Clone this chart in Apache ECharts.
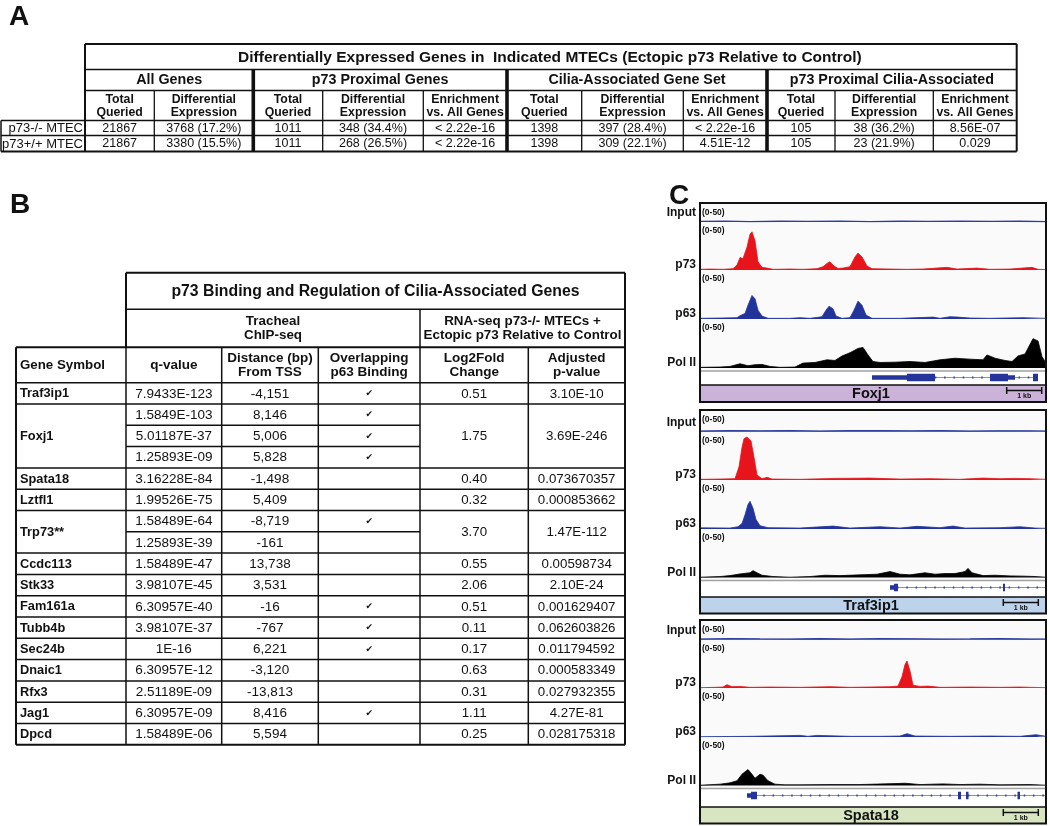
<!DOCTYPE html>
<html><head><meta charset="utf-8">
<script src="https://cdn.jsdelivr.net/npm/echarts/dist/echarts.min.js"></script>
<style>html,body{margin:0;padding:0;background:#fff}#c{width:1050px;height:826px}</style>
</head><body><div id="c"></div>
<script>
// ---------------- DATA ----------------
// Panel A
const tableATitle = 'Differentially Expressed Genes in  Indicated MTECs (Ectopic p73 Relative to Control)';
const tableAGroups = ['All Genes', 'p73 Proximal Genes', 'Cilia-Associated Gene Set', 'p73 Proximal Cilia-Associated'];
const tableAColHeaders = ['Total\nQueried', 'Differential\nExpression',
  'Total\nQueried', 'Differential\nExpression', 'Enrichment\nvs. All Genes',
  'Total\nQueried', 'Differential\nExpression', 'Enrichment\nvs. All Genes',
  'Total\nQueried', 'Differential\nExpression', 'Enrichment\nvs. All Genes'];
const tableARowLabels = ['p73-/- MTEC', 'p73+/+ MTEC'];
const tableAKnockout = ['21867', '3768 (17.2%)', '1011', '348 (34.4%)', '< 2.22e-16', '1398', '397 (28.4%)', '< 2.22e-16', '105', '38 (36.2%)', '8.56E-07'];
const tableAWildtype = ['21867', '3380 (15.5%)', '1011', '268 (26.5%)', '< 2.22e-16', '1398', '309 (22.1%)', '4.51E-12', '105', '23 (21.9%)', '0.029'];

// Panel B
const tableBTitle = 'p73 Binding and Regulation of Cilia-Associated Genes';
const tableBSubHeaders = ['Tracheal\nChIP-seq', 'RNA-seq p73-/- MTECs +\nEctopic p73 Relative to Control'];
const tableBColHeaders = ['Gene Symbol', 'q-value', 'Distance (bp)\nFrom TSS', 'Overlapping\np63 Binding', 'Log2Fold\nChange', 'Adjusted\np-value'];
const geneSymbols = ['Traf3ip1', 'Foxj1', 'Spata18', 'Lztfl1', 'Trp73**', 'Ccdc113', 'Stk33', 'Fam161a', 'Tubb4b', 'Sec24b', 'Dnaic1', 'Rfx3', 'Jag1', 'Dpcd'];
const genePeakCounts = [1, 3, 1, 1, 2, 1, 1, 1, 1, 1, 1, 1, 1, 1];
const qValues = ['7.9433E-123', '1.5849E-103', '5.01187E-37', '1.25893E-09', '3.16228E-84', '1.99526E-75', '1.58489E-64', '1.25893E-39', '1.58489E-47', '3.98107E-45', '6.30957E-40', '3.98107E-37', '1E-16', '6.30957E-12', '2.51189E-09', '6.30957E-09', '1.58489E-06'];
const distancesFromTSS = ['-4,151', '8,146', '5,006', '5,828', '-1,498', '5,409', '-8,719', '-161', '13,738', '3,531', '-16', '-767', '6,221', '-3,120', '-13,813', '8,416', '5,594'];
const p63Overlap = [1, 1, 1, 1, 0, 0, 1, 0, 0, 0, 1, 1, 1, 0, 0, 1, 0];
const log2FoldChange = ['0.51', '1.75', '0.40', '0.32', '3.70', '0.55', '2.06', '0.51', '0.11', '0.17', '0.63', '0.31', '1.11', '0.25'];
const adjustedPValue = ['3.10E-10', '3.69E-246', '0.073670357', '0.000853662', '1.47E-112', '0.00598734', '2.10E-24', '0.001629407', '0.062603826', '0.011794592', '0.000583349', '0.027932355', '4.27E-81', '0.028175318'];

// Panel C (x = position along locus window, y = signal, range 0-50)
const trackNames = ['Input', 'p73', 'p63', 'Pol II'];
const trackRange = '(0-50)';
const locusNames = ['Foxj1', 'Traf3ip1', 'Spata18'];
const scaleBarLabel = '1 kb';

const foxj1Input = [[0,0.6],[25,0.9],[50,0.5],[80,0.8],[110,0.6],[140,0.9],[170,0.5],[200,0.8],[230,0.6],[260,0.9],[290,0.6],[320,0.8],[346,0.5]];
const foxj1P73 = [[0,0.7],[10,1],[23,0.7],[33,1.4],[37,5.2],[40,13.2],[43,12.2],[47,24.3],[50,38],[52,40.6],[55,31],[58,8.7],[62,2.8],[67,2],[73,0.7],[90,1],[103,0.7],[117,1.4],[123,3.5],[127,7],[130,8.7],[134,4.2],[138,1.7],[143,2],[150,3.5],[155,13.9],[158,18],[162,13.9],[167,4.2],[172,1.4],[190,1],[207,0.7],[223,1],[247,2.8],[257,1],[277,2],[290,0.7],[310,1],[332,2.8],[338,0.7],[346,0.3]];
const foxj1P63 = [[0,0.7],[20,1],[37,1.4],[40,3.5],[45,5.9],[48,14.6],[52,25],[55,21.5],[58,9.4],[62,3.1],[68,0.7],[90,0.7],[100,1.4],[110,0.7],[122,2.4],[126,9.4],[129,13.5],[133,11],[136,3.1],[142,0.7],[150,1.4],[154,9.4],[158,19],[162,14.6],[166,4.2],[172,0.7],[200,0.7],[233,2],[240,0.7],[250,2.4],[258,2],[270,1],[290,0.7],[323,1.4],[346,0.7]];
const foxj1PolII = [[0,0.7],[20,1],[30,1.7],[40,4.5],[48,2.4],[55,3.5],[62,3.8],[70,1.7],[80,0.7],[95,1],[103,5.2],[115,5.9],[127,8.7],[135,8],[142,12.8],[150,16.3],[158,20.8],[163,21.9],[168,13.9],[173,6.9],[180,5.9],[195,6.2],[210,6.9],[225,5.9],[240,8.7],[255,10.4],[270,9.4],[283,8.7],[287,13.9],[295,10.4],[305,8],[312,6.9],[318,12.8],[325,14.9],[333,31.2],[338,28.8],[342,12.1],[346,5.2]];

const traf3ip1Input = [[0,0.5],[30,0.8],[60,0.6],[90,0.9],[120,0.5],[150,0.8],[180,0.9],[210,0.6],[240,0.8],[270,0.5],[300,0.7],[330,0.6],[346,0.5]];
const traf3ip1P73 = [[0,0.7],[20,1],[35,1.4],[39,14],[42,34.7],[44,44],[47,45.8],[51,41.6],[54,24.3],[57,5.2],[62,1.4],[67,2.8],[72,1],[100,0.7],[135,1.7],[170,2],[200,1],[230,1.4],[260,0.7],[283,2],[300,1.4],[315,1.7],[330,1.4],[346,0.7]];
const traf3ip1P63 = [[0,1.2],[30,1],[38,2.4],[42,5.9],[45,15],[48,26],[50,29.5],[53,22],[56,10],[60,3.5],[68,1.4],[100,1],[133,3.1],[150,1],[180,2.4],[200,1],[217,2.8],[240,1.4],[253,3.1],[265,1],[300,1.4],[320,2.4],[335,1],[346,0.7]];
const traf3ip1PolII = [[0,0.3],[20,1],[30,2],[40,3.8],[50,5],[53,7.3],[57,5],[62,2.4],[73,1],[90,0.3],[110,1],[125,2.4],[140,2],[160,2.8],[177,3.5],[190,6.3],[200,3.5],[210,2.8],[225,5],[235,3.5],[245,4.2],[255,4.2],[265,6.3],[268,9.7],[272,5],[283,2],[295,2.4],[310,1.7],[325,1.4],[335,1],[346,0.3]];

const spata18Input = [[0,0.4],[30,0.9],[60,0.6],[90,0.5],[120,0.8],[150,0.5],[180,0.9],[210,0.7],[240,0.5],[270,0.6],[300,0.8],[330,0.5],[346,0.4]];
const spata18P73 = [[0,0.3],[15,0.7],[23,1],[27,3.5],[32,1.4],[40,1.7],[50,0.7],[70,1],[100,0.7],[130,1.4],[150,0.7],[170,1],[190,1.4],[198,2],[202,12],[205,25],[207,28.8],[210,18],[213,3],[220,1.7],[228,2],[240,0.7],[270,1],[300,0.7],[320,1],[346,0.3]];
const spata18P63 = [[0,0.3],[50,0.7],[100,1.7],[108,0.7],[117,1.7],[150,0.7],[180,0.7],[200,1],[207,3.5],[215,1],[250,0.7],[290,1],[320,0.7],[336,2.4],[346,0.7]];
const spata18PolII = [[0,0.3],[20,1.4],[30,2.8],[37,5],[42,12],[48,17],[52,12],[55,7.6],[60,12],[63,11],[68,5],[75,1.4],[85,0.7],[100,0.7],[130,1],[160,1],[195,2],[205,2.4],[220,1],[243,1.7],[260,1],[280,1.4],[300,0.7],[330,1],[346,0.3]];

// gene models: introns [start, end]; exons [start, end, coding(1)/UTR(0)]
const foxj1Intron = [[172, 338]];
const foxj1Exons = [[172,207,0],[207,235,1],[290,308,1],[308,315,0],[333,338,1]];
const traf3ip1Intron = [[190, 346]];
const traf3ip1Exons = [[190,194,0],[194,198,1],[303,305,1]];
const spata18Intron = [[47, 346]];
const spata18Exons = [[47,51,0],[51,57,1],[258,261,1],[266,268.5,1],[317.5,320,1]];

// ---------------- LAYOUT / DRAWING ----------------
const FF = '"Liberation Sans", Arial, Helvetica, sans-serif';
const G = [];
function L(x1, y1, x2, y2, w, c, z) {
  G.push({type: 'line', silent: true, z: z || 50, shape: {x1, y1, x2, y2}, style: {stroke: c || '#111', lineWidth: w || 1.3}});
}
function R(x, y, w, h, fill, stroke, lw, z) {
  G.push({type: 'rect', silent: true, z: z || 0, shape: {x, y, width: w, height: h},
    style: {fill: fill || 'none', stroke: stroke || 'none', lineWidth: lw || 0}});
}
function T(x, y, s, size, bold, align, extra) {
  G.push({type: 'text', silent: true, z: 60, x, y,
    style: Object.assign({text: s, fill: '#111', font: (bold ? 'bold ' : '') + size + 'px ' + FF,
      textAlign: align || 'center', textVerticalAlign: 'middle', lineHeight: Math.round(size * 1.08)}, extra || {})});
}

// panel letters
T(19, 17, 'A', 28, true);
T(20, 205, 'B', 28, true);
T(679, 196, 'C', 28, true);

// ----- Table A -----
const xA = [85, 154.3, 253.3, 322.7, 423.3, 507, 581.7, 683.3, 767, 835, 933.3, 1016.7];
const yA = [44, 69.5, 90.5, 120.5, 135.5, 151.5];
const groupSpan = [[0, 2], [2, 5], [5, 8], [8, 11]];
T((xA[0] + xA[11]) / 2 - 1, (yA[0] + yA[1]) / 2 + 0.5, tableATitle, 15.5, true);
tableAGroups.forEach((g, i) => T((xA[groupSpan[i][0]] + xA[groupSpan[i][1]]) / 2, (yA[1] + yA[2]) / 2 + 0.5, g, 14.3, true));
tableAColHeaders.forEach((h, i) => T((xA[i] + xA[i + 1]) / 2, (yA[2] + yA[3]) / 2 + 0.5, h, 12.3, true, 'center', {lineHeight: 13}));
[tableAKnockout, tableAWildtype].forEach((row, r) => {
  const yc = (yA[3 + r] + yA[4 + r]) / 2 + 0.5;
  T(83, yc, tableARowLabels[r], 13, false, 'right');
  row.forEach((v, i) => T((xA[i] + xA[i + 1]) / 2, yc, v, 12.5, false));
});
L(xA[0], yA[0], xA[11], yA[0], 2);
L(xA[0], yA[0], xA[0], yA[5], 2);
L(xA[11], yA[0], xA[11], yA[5], 2);
L(xA[0], yA[1], xA[11], yA[1], 1.6);
L(xA[0], yA[2], xA[11], yA[2], 1.3);
L(1, yA[3], xA[11], yA[3], 1.6);
L(1, yA[4], xA[11], yA[4], 1.3);
L(1, yA[5], xA[11], yA[5], 2);
L(1, yA[3], 1, yA[5], 1.5);
for (let i = 1; i < 11; i++) {
  if (i === 2 || i === 5 || i === 8) L(xA[i], yA[1], xA[i], yA[5], 3.6);
  else L(xA[i], yA[2], xA[i], yA[5], 1.3);
}

// ----- Table B -----
const xB = [16, 126, 221.7, 318.3, 420, 528.3, 625];
const yB = [272.7, 309.3, 347.3, 382.7];
const rowH = 21.3;
T((xB[1] + xB[6]) / 2, (yB[0] + yB[1]) / 2 + 0.5, tableBTitle, 15.8, true);
T((xB[1] + xB[4]) / 2, (yB[1] + yB[2]) / 2 + 0.5, tableBSubHeaders[0], 13.4, true, 'center', {lineHeight: 14});
T((xB[4] + xB[6]) / 2, (yB[1] + yB[2]) / 2 + 0.5, tableBSubHeaders[1], 13.4, true, 'center', {lineHeight: 14});
tableBColHeaders.forEach((h, i) => {
  if (i === 0) T(xB[0] + 4, (yB[2] + yB[3]) / 2 + 0.5, h, 13.3, true, 'left');
  else T((xB[i] + xB[i + 1]) / 2, (yB[2] + yB[3]) / 2 + 0.5, h, 13.5, true, 'center', {lineHeight: 14});
});
L(xB[1], yB[0], xB[6], yB[0], 2);
L(xB[1], yB[0], xB[1], yB[2], 2);
L(xB[6], yB[0], xB[6], yB[3] + rowH * 17, 2);
L(xB[1], yB[1], xB[6], yB[1], 1.5);
L(xB[4], yB[1], xB[4], yB[2], 1.5);
L(xB[0], yB[2], xB[6], yB[2], 2);
L(xB[0], yB[3], xB[6], yB[3], 1.5);
const yEnd = yB[3] + rowH * 17;
L(xB[0], yB[2], xB[0], yEnd, 2);
for (let i = 1; i < 6; i++) L(xB[i], yB[2], xB[i], yEnd, 1.5);
L(xB[0], yEnd, xB[6], yEnd, 2);
let rowIdx = 0;
geneSymbols.forEach((g, gi) => {
  const n = genePeakCounts[gi];
  const y0 = yB[3] + rowIdx * rowH, y1 = y0 + n * rowH;
  T(xB[0] + 4, (y0 + y1) / 2 + 0.5, g, 12.8, true, 'left');
  T((xB[4] + xB[5]) / 2, (y0 + y1) / 2 + 0.5, log2FoldChange[gi], 13.3, false);
  T((xB[5] + xB[6]) / 2, (y0 + y1) / 2 + 0.5, adjustedPValue[gi], 13.3, false);
  if (gi < geneSymbols.length - 1) L(xB[0], y1, xB[6], y1, 1.5);
  for (let k = 0; k < n; k++) {
    const r = rowIdx + k, ya = yB[3] + r * rowH, yc = ya + rowH / 2 + 0.5;
    T((xB[1] + xB[2]) / 2, yc, qValues[r], 13.5, false);
    T((xB[2] + xB[3]) / 2, yc, distancesFromTSS[r], 13.5, false);
    if (p63Overlap[r]) T((xB[3] + xB[4]) / 2, yc, '\u2714', 9, false, 'center', {font: '9px "DejaVu Sans"'});
    if (k > 0) L(xB[1], ya, xB[4], ya, 1.5);
  }
  rowIdx += n;
});

// ----- Panel C: genome tracks -----
const boxes = [
  {top: 203, inB: 222, p73B: 270, p63B: 319, polB: 368, gene: 377.5, barTop: 385, bot: 402, sb: [306.7, 341.7], bar: '#cbb2d8'},
  {top: 410, inB: 431.5, p73B: 480, p63B: 529, polB: 577.5, gene: 587.5, barTop: 597, bot: 613.5, sb: [303.3, 338.3], bar: '#bdd3ec'},
  {top: 620, inB: 639.5, p73B: 688, p63B: 737, polB: 785.5, gene: 795.5, barTop: 807, bot: 823.5, sb: [303.3, 338.3], bar: '#d7e6c1'}
];
const BX = 700, BW = 346;
const signals = [
  [foxj1Input, foxj1P73, foxj1P63, foxj1PolII],
  [traf3ip1Input, traf3ip1P73, traf3ip1P63, traf3ip1PolII],
  [spata18Input, spata18P73, spata18P63, spata18PolII]
];
const models = [[foxj1Intron, foxj1Exons], [traf3ip1Intron, traf3ip1Exons], [spata18Intron, spata18Exons]];
const trackColors = ['#2d3d9e', '#e8141b', '#22339a', '#000000'];

const grids = [], xAxes = [], yAxes = [], series = [];
function addGrid(top, height, ymin, ymax) {
  const i = grids.length;
  grids.push({left: BX, top: top, width: BW, height: height});
  xAxes.push({type: 'value', gridIndex: i, min: 0, max: 346, show: false});
  yAxes.push({type: 'value', gridIndex: i, min: ymin, max: ymax, show: false});
  return i;
}

boxes.forEach((b, bi) => {
  R(BX, b.top, BW, b.polB + 3 - b.top, '#fafafa', null, 0, 0);
  R(BX, b.polB + 3, BW, b.barTop - b.polB - 3, '#ffffff', null, 0, 0);
  R(BX, b.barTop, BW, b.bot - b.barTop, b.bar, null, 0, 0);
  const bases = [b.inB, b.p73B, b.p63B, b.polB];
  const tops = [b.top + 2, b.inB + 1, b.p73B + 1, b.p63B + 1];
  bases.forEach((base, k) => {
    const gi = addGrid(tops[k], base - tops[k], 0, 50 * (base - tops[k]) / 47);
    series.push({type: 'line', xAxisIndex: gi, yAxisIndex: gi, data: signals[bi][k], symbol: 'none', silent: true,
      animation: false, z: 5, lineStyle: {color: trackColors[k], width: k === 0 ? 1.3 : 0.8},
      areaStyle: {color: trackColors[k], opacity: 1}});
    T(BX + 2, tops[k] + 8, trackRange, 8.5, true, 'left');
    T(696, base - (k === 0 ? 9 : 5), trackNames[k], 12, true, 'right');
  });
  L(BX, b.inB - 0.5, BX + BW, b.inB - 0.5, 1, '#a9b3e0', 3);
  L(BX, b.polB + 3, BX + BW, b.polB + 3, 1.5, '#a2a2a2', 4);
  const gg = addGrid(b.gene - 6, 12, -1, 1);
  series.push({type: 'custom', xAxisIndex: gg, yAxisIndex: gg, data: models[bi][0], silent: true, animation: false, z: 5,
    renderItem: function (p, api) {
      const a = api.coord([api.value(0), 0]), c = api.coord([api.value(1), 0]);
      const ch = [{type: 'line', shape: {x1: a[0], y1: a[1], x2: c[0], y2: a[1]}, style: {stroke: '#8190d4', lineWidth: 1}}];
      for (let x = a[0] + 7; x < c[0] - 3; x += 9.3) ch.push({type: 'rect', shape: {x: x, y: a[1] - 1, width: 1.5, height: 2}, style: {fill: '#3343a6'}});
      return {type: 'group', children: ch};
    }});
  series.push({type: 'custom', xAxisIndex: gg, yAxisIndex: gg, data: models[bi][1], silent: true, animation: false, z: 6,
    renderItem: function (p, api) {
      const a = api.coord([api.value(0), 0]), c = api.coord([api.value(1), 0]);
      const h = api.value(2) ? 7.5 : 4.5;
      return {type: 'rect', shape: {x: a[0], y: a[1] - h / 2, width: Math.max(c[0] - a[0], 2), height: h}, style: {fill: '#25349b'}};
    }});
  L(BX, b.barTop, BX + BW, b.barTop, 1.6, '#111', 55);
  T(871, (b.barTop + b.bot) / 2 + 0.5, locusNames[bi], 14.5, true);
  const s0 = BX + b.sb[0], s1 = BX + b.sb[1], sy = b.barTop + 5.5;
  L(s0, sy, s1, sy, 1.5);
  L(s0, sy - 3.5, s0, sy + 3.5, 1.5);
  L(s1, sy - 3.5, s1, sy + 3.5, 1.5);
  T((s0 + s1) / 2, sy + 6, scaleBarLabel, 7, true);
  R(BX, b.top, BW, b.bot - b.top, 'none', '#111', 2, 55);
});

const chart = echarts.init(document.getElementById('c'), null, {renderer: 'canvas', width: 1050, height: 826});
chart.setOption({
  animation: false,
  backgroundColor: '#ffffff',
  grid: grids, xAxis: xAxes, yAxis: yAxes, series: series,
  graphic: {elements: G}
});
</script></body></html>
